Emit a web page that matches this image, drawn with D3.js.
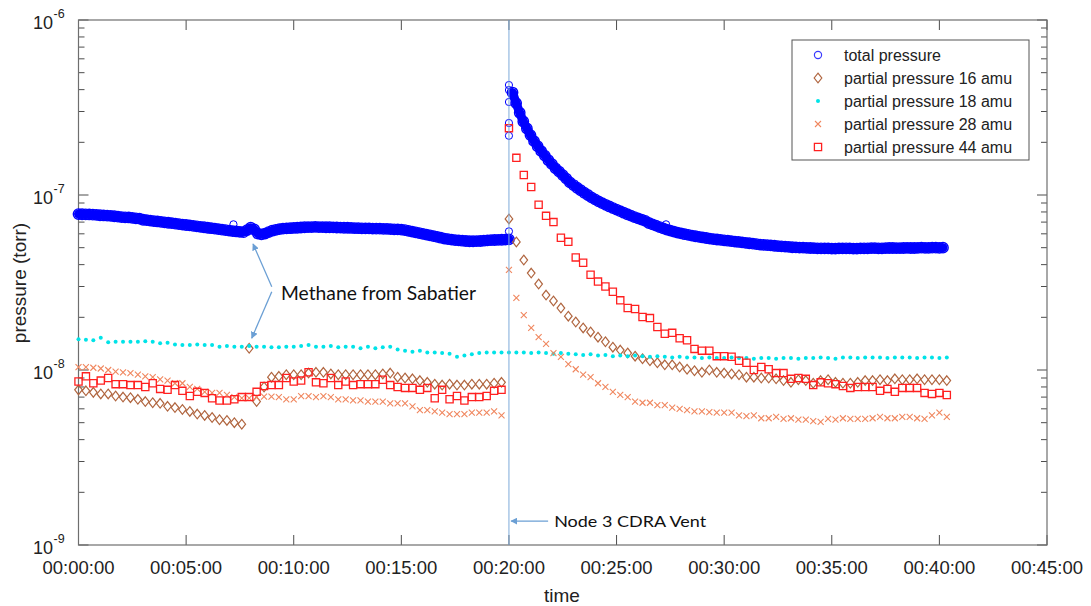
<!DOCTYPE html>
<html>
<head>
<meta charset="utf-8">
<script src="https://cdn.jsdelivr.net/npm/d3@7"></script>
<style>
  body { margin: 0; background: #fff; }
  text { font-family: "Liberation Sans", Arial, sans-serif; fill: #222; }
</style>
</head>
<body>
<div id="chart"></div>
<script>
// ---- data ----
// total pressure, 1e-8 torr, one reading every 10 s starting 00:00:00
const totalPreVent = [
  7.78, 7.76, 7.75, 7.74, 7.72, 7.70, 7.66, 7.64, 7.62, 7.60, 7.56, 7.52,
  7.48, 7.45, 7.44, 7.40, 7.36, 7.33, 7.22, 7.18, 7.14, 7.10, 7.06, 7.02,
  6.98, 6.94, 6.90, 6.86, 6.82, 6.78, 6.74, 6.70, 6.66, 6.62, 6.58, 6.54,
  6.50, 6.46, 6.42, 6.38, 6.34, 6.30, 6.26, 6.22, 6.19, 6.16, 6.13, 6.30,
  6.50, 6.35, 6.02, 5.96, 6.02, 6.14, 6.25, 6.32, 6.38, 6.42, 6.44, 6.46,
  6.48, 6.50, 6.52, 6.54, 6.55, 6.56, 6.57, 6.56, 6.55, 6.54, 6.54, 6.53,
  6.52, 6.51, 6.50, 6.50, 6.48, 6.47, 6.46, 6.45, 6.44, 6.44, 6.43, 6.42,
  6.42, 6.40, 6.40, 6.38, 6.37, 6.36, 6.34, 6.30, 6.24, 6.18, 6.12, 6.06,
  6.00, 5.94, 5.88, 5.82, 5.76, 5.70, 5.64, 5.60, 5.56, 5.52, 5.50, 5.48,
  5.46, 5.44, 5.44, 5.45, 5.46, 5.48, 5.50, 5.52, 5.53, 5.54, 5.55, 5.56,
  5.58
];
// readings logged right at the vent, 00:20:00 (1e-8 torr)
const totalVentSpike = [6.2, 21.8, 25.8, 34.0, 39.8, 42.5];
// every 10 s starting 00:20:10 (1e-8 torr)
const totalPostVent = [
  38.5, 33.5, 29.5, 26.3, 24.0, 22.0, 20.3, 19.0, 17.8, 16.8, 15.8, 15.0,
  14.2, 13.6, 13.0, 12.4, 11.8, 11.4, 11.0, 10.65, 10.3, 10.0, 9.7, 9.45,
  9.2, 8.98, 8.78, 8.6, 8.42, 8.25, 8.08, 7.92, 7.76, 7.62, 7.48, 7.35,
  7.24, 7.12, 6.92, 6.80, 6.68, 6.56, 6.45, 6.34, 6.26, 6.18, 6.10, 6.03,
  5.97, 5.92, 5.86, 5.81, 5.76, 5.72, 5.68, 5.64, 5.60, 5.57, 5.54, 5.51,
  5.48, 5.45, 5.42, 5.39, 5.36, 5.33, 5.30, 5.27, 5.24, 5.21, 5.19, 5.17,
  5.15, 5.13, 5.11, 5.09, 5.07, 5.05, 5.03, 5.02, 5.01, 5.00, 4.99, 4.98,
  4.97, 4.96, 4.96, 4.95, 4.95, 4.94, 4.94, 4.95, 4.95, 4.96, 4.95, 4.94,
  4.94, 4.95, 4.96, 4.96, 4.97, 4.97, 4.96, 4.96, 4.97, 4.98, 4.98, 4.97,
  4.97, 4.98, 4.99, 4.98, 4.98, 4.99, 5.00, 4.99, 4.99, 5.00, 5.00, 4.99,
  5.00
];
// stray total pressure readings (minutes, 1e-8 torr)
const totalStrayTimes = [7.2, 27.3];
const totalStrayValues = [6.8, 6.8];

// RGA partial pressures, 1e-9 torr, one scan every 20/58 min
const rgaStep = 20 / 58;
const pp16 = [
  7.7, 7.6, 7.45, 7.3, 7.3, 7.1, 7.0, 6.95, 6.8, 6.6, 6.5, 6.45, 6.2, 6.1, 5.95, 5.8,
  5.6, 5.5, 5.35, 5.2, 5.15, 5.0, 4.9,
  13.3, 6.6, 8.0, 9.1,
  9.2, 9.4, 9.4, 9.4, 9.6, 9.7, 9.7, 9.5, 9.4, 9.4, 9.4, 9.4, 9.4, 9.4, 9.5, 9.6,
  9.1, 9.0, 8.9, 8.7, 8.5, 8.3, 8.2, 8.3, 8.2, 8.2, 8.3, 8.3, 8.3, 8.4, 8.5,
  73,
  53.9, 42.5, 35.8, 31.0, 26.8, 24.8, 22.6, 20.3, 18.8, 17.4, 16.5, 15.4, 14.5, 13.5,
  13.0, 12.5, 12.0, 11.6, 11.3, 11.0, 10.7, 10.7, 10.4, 10.1, 9.9, 9.7, 10.0, 9.7,
  9.6, 9.5, 9.4, 9.1, 9.1, 9.0, 9.0, 8.9, 8.7, 8.5, 8.8, 8.7, 8.4, 8.7, 8.8, 8.5,
  8.4, 8.4, 8.5, 8.7, 8.7, 8.8, 8.7, 8.9, 8.8, 8.8, 8.9, 8.8, 8.8, 8.8, 8.7
];
const pp18 = [
  15.0, 14.9, 14.8, 15.3, 14.4, 14.5, 14.5, 14.5, 14.5, 14.6, 14.5, 14.2, 14.3, 14.0,
  13.9, 13.9, 14.0, 13.9, 13.9, 13.6, 13.7, 13.6, 13.6, 13.7, 13.6, 13.6, 13.5, 13.5,
  13.6, 13.6, 13.7, 13.9, 13.6, 13.6, 13.7, 13.5, 13.6, 13.6, 13.3, 13.6, 13.3, 13.5,
  13.6, 13.1, 12.9, 12.7, 12.9, 12.6, 12.6, 12.5, 12.4, 11.9, 12.1, 12.3, 12.5, 12.6,
  12.6, 12.6,
  12.6,
  12.6, 12.6, 12.5, 12.6, 12.5, 12.4, 12.5, 12.4, 12.3, 12.2, 12.3, 12.1, 12.2, 12.0,
  12.1, 12.0, 12.1, 12.0, 11.9, 12.0, 11.9, 11.8, 11.9, 11.8, 11.8, 11.7, 11.8, 11.7,
  11.7, 11.8, 11.7, 11.7, 11.6, 11.7, 11.7, 11.6, 11.7, 11.7, 11.6, 11.7, 11.7, 11.8,
  11.7, 11.6, 11.8, 11.8, 11.7, 11.8, 11.8, 11.8, 11.7, 11.8, 11.8, 11.8, 11.7, 11.8,
  11.8, 11.7, 11.8
];
const pp28 = [
  10.4, 10.4, 10.3, 10.2, 10.0, 9.8, 9.7, 9.6, 9.4, 9.2, 9.1, 8.85, 8.7, 8.4, 8.4, 8.0,
  7.8, 7.5, 7.4, 7.4, 7.2, 7.0, 6.9, 6.9, 7.0, 7.05, 7.05, 7.0, 6.8, 6.8, 7.1, 7.1,
  7.0, 7.1, 7.0, 6.8, 6.8, 6.7, 6.7, 6.6, 6.6, 6.6, 6.45, 6.45, 6.45, 6.2, 5.9, 5.9,
  5.8, 5.7, 5.6, 5.6, 5.6, 5.7, 5.7, 5.7, 5.8, 5.5,
  37.3,
  25.8, 20.6, 17.4, 15.4, 14.1, 12.5, 11.9, 10.8, 10.1, 9.4, 9.1, 8.4, 8.0, 7.5, 7.2,
  7.0, 6.6, 6.5, 6.5, 6.3, 6.3, 6.1, 6.0, 5.9, 5.8, 5.8, 5.75, 5.7, 5.7, 5.7, 5.5,
  5.45, 5.5, 5.3, 5.3, 5.4, 5.25, 5.3, 5.2, 5.2, 5.1, 5.05, 5.25, 5.2, 5.3, 5.25,
  5.25, 5.25, 5.3, 5.4, 5.3, 5.3, 5.4, 5.4, 5.3, 5.25, 5.5, 5.7, 5.4
];
const pp44 = [
  8.6, 9.2, 8.4, 8.7, 9.0, 8.3, 8.3, 8.2, 8.2, 8.0, 8.4, 7.8, 7.7, 8.2, 7.6, 7.1,
  7.5, 7.4, 6.9, 6.7, 6.7, 6.8, 7.0, 7.0, 7.5, 8.1, 8.2, 8.2, 9.0, 8.6, 8.7, 9.7,
  8.5, 8.4, 9.0, 8.2, 8.6, 8.2, 8.3, 8.3, 8.3, 8.8, 8.2, 8.0, 7.9, 7.9, 7.7, 7.9,
  6.9, 7.7, 6.8, 7.1, 6.7, 7.0, 7.0, 7.1, 7.6, 7.7,
  241,
  163, 130, 111, 88, 76, 70, 57, 54, 44, 41, 35, 32, 30, 28, 25, 22.6, 22.3, 20.1,
  19.8, 17.6, 16.1, 16.3, 15.2, 14.8, 13.2, 12.9, 12.9, 12.0, 12.0, 11.9, 11.3, 11.0,
  10.0, 10.4, 10.1, 9.6, 9.6, 8.9, 9.0, 8.9, 8.2, 8.5, 8.4, 8.3, 8.1, 7.9, 8.0, 8.0,
  8.0, 7.6, 7.8, 7.5, 7.9, 7.9, 7.9, 7.4, 7.3, 7.4, 7.2
];

const xTicks = [0, 5, 10, 15, 20, 25, 30, 35, 40, 45];   // minutes
const yDecades = [1e-9, 1e-8, 1e-7, 1e-6];
const legendLabels = ["total pressure", "partial pressure 16 amu", "partial pressure 18 amu",
                      "partial pressure 28 amu", "partial pressure 44 amu"];
const ventTime = 20;

// ---- setup ----
const width = 1091, height = 606;
const svg = d3.select("#chart").append("svg")
    .attr("width", width)
    .attr("height", height);

const x = d3.scaleLinear().domain([0, 45]).range([78.5, 1047]);
const y = d3.scaleLog().domain([1e-9, 1e-6]).range([545, 20]);
const fmtTime = m => "00:" + String(m).padStart(2, "0") + ":00";

const colTotal = "#0000ff", col16 = "#b0653f", col18 = "#00e3e8", col28 = "#f0875f", col44 = "#ff2020";

// build point lists
const preVent = totalPreVent.map((v, i) => ({ t: i / 6, v: v * 1e-8 }));
const postVent = totalPostVent.map((v, i) => ({ t: ventTime + (i + 1) / 6, v: v * 1e-8 }));
const spike = totalVentSpike.map(v => ({ t: ventTime, v: v * 1e-8 }));
const stray = totalStrayTimes.map((t, i) => ({ t: t, v: totalStrayValues[i] * 1e-8 }));
const rga = arr => arr.map((v, k) => ({ t: k * rgaStep, v: v * 1e-9 }));

// ---- axes frame + ticks ----
const axes = svg.append("g");
const tickCol = "#4d4d4d";

// x ticks (inside, bottom and top)
axes.selectAll(".xt").data(xTicks).join("line")
    .attr("x1", d => x(d)).attr("x2", d => x(d))
    .attr("y1", 545).attr("y2", 535)
    .attr("stroke", tickCol);
axes.selectAll(".xtt").data(xTicks).join("line")
    .attr("x1", d => x(d)).attr("x2", d => x(d))
    .attr("y1", 20).attr("y2", 30)
    .attr("stroke", tickCol);
axes.selectAll(".xl").data(xTicks).join("text")
    .attr("x", d => x(d)).attr("y", 574)
    .attr("text-anchor", "middle")
    .style("font-size", "18.5px")
    .text(fmtTime);

// y ticks, majors and minors on both sides
const minors = [];
yDecades.slice(0, 3).forEach(d => { for (let m = 2; m <= 9; m++) minors.push(d * m); });
[[78.5, 1], [1047, -1]].forEach(([x0, dir]) => {
    axes.append("g").selectAll("line").data(yDecades).join("line")
        .attr("x1", x0).attr("x2", x0 + dir * 10)
        .attr("y1", d => y(d)).attr("y2", d => y(d))
        .attr("stroke", tickCol);
    axes.append("g").selectAll("line").data(minors).join("line")
        .attr("x1", x0).attr("x2", x0 + dir * 6)
        .attr("y1", d => y(d)).attr("y2", d => y(d))
        .attr("stroke", tickCol);
});
yDecades.forEach(d => {
    const e = Math.round(Math.log10(d));
    axes.append("text").attr("x", 53).attr("y", y(d) + 9)
        .attr("text-anchor", "end").style("font-size", "18px").text("10");
    axes.append("text").attr("x", 53.5).attr("y", y(d) - 2)
        .attr("text-anchor", "start").style("font-size", "12.5px").text(e);
});

axes.append("rect")
    .attr("x", 78.5).attr("y", 20)
    .attr("width", 1047 - 78.5).attr("height", 525)
    .attr("fill", "none").attr("stroke", "#6e6e6e").attr("stroke-width", 1.2);

svg.append("text").attr("x", 562).attr("y", 602)
    .attr("text-anchor", "middle").style("font-size", "19px").text("time");
svg.append("text").attr("transform", "translate(26,283) rotate(-90)")
    .attr("text-anchor", "middle").style("font-size", "19px").text("pressure (torr)");

// ---- total pressure (dense circles) ----
const plot = svg.append("g");
const line = d3.line().x(d => x(d.t)).y(d => y(d.v));
[preVent, postVent].forEach(seg => {
    plot.append("path").datum(seg)
        .attr("d", line)
        .attr("fill", "none").attr("stroke", colTotal)
        .attr("stroke-width", 9).attr("stroke-linecap", "round").attr("stroke-linejoin", "round");
    plot.append("g").selectAll("circle").data(seg).join("circle")
        .attr("cx", d => x(d.t)).attr("cy", d => y(d.v)).attr("r", 5.2)
        .attr("fill", "none").attr("stroke", colTotal).attr("stroke-width", 1.4);
});
plot.append("g").selectAll("circle").data(spike.concat(stray)).join("circle")
    .attr("cx", d => x(d.t)).attr("cy", d => y(d.v)).attr("r", 3.6)
    .attr("fill", "none").attr("stroke", colTotal).attr("stroke-width", 1);

// ---- marker shapes ----
const diamond = "M0,-4.8L3.8,0L0,4.8L-3.8,0Z";
const square = "M-3.6,-3.6H3.6V3.6H-3.6Z";
const cross = "M-3,-3L3,3M-3,3L3,-3";

function drawMarkers(data, path, color, sw) {
    plot.append("g").selectAll("path").data(data).join("path")
        .attr("transform", d => `translate(${x(d.t)},${y(d.v)})`)
        .attr("d", path)
        .attr("fill", "none").attr("stroke", color).attr("stroke-width", sw);
}
drawMarkers(rga(pp16), diamond, col16, 1.2);
plot.append("g").selectAll("circle").data(rga(pp18)).join("circle")
    .attr("cx", d => x(d.t)).attr("cy", d => y(d.v)).attr("r", 2)
    .attr("fill", col18);
drawMarkers(rga(pp28), cross, col28, 1.1);
drawMarkers(rga(pp44), square, col44, 1.3);

// ---- annotations ----
const annCol = "#6b9fd4";
svg.append("defs").append("marker")
    .attr("id", "arr").attr("viewBox", "0 0 10 10")
    .attr("refX", 9).attr("refY", 5)
    .attr("markerWidth", 7).attr("markerHeight", 7)
    .attr("markerUnits", "userSpaceOnUse")
    .attr("orient", "auto")
    .append("path").attr("d", "M0,0L10,5L0,10Z").attr("fill", annCol);

svg.append("line")
    .attr("x1", x(ventTime)).attr("x2", x(ventTime))
    .attr("y1", 20).attr("y2", 545)
    .attr("stroke", "#7eaad9").attr("stroke-width", 1);

const arrows = [
    [[8.98, 2.99e-8], [8.11, 5.25e-8]],
    [[8.98, 2.80e-8], [8.05, 1.52e-8]],
    [[21.82, 1.37e-9], [20.1, 1.37e-9]]
];
arrows.forEach(([a, b]) => {
    svg.append("line")
        .attr("x1", x(a[0])).attr("y1", y(a[1]))
        .attr("x2", x(b[0])).attr("y2", y(b[1]))
        .attr("stroke", annCol).attr("stroke-width", 1.3)
        .attr("marker-end", "url(#arr)");
});
svg.append("text").attr("x", x(9.41)).attr("y", y(2.51e-8))
    .style("font-family", "Lato, 'Open Sans', sans-serif").style("font-size", "19px")
    .attr("textLength", 195).attr("lengthAdjust", "spacingAndGlyphs")
    .style("fill", "#111").text("Methane from Sabatier");
svg.append("text").attr("x", x(22.1)).attr("y", y(1.27e-9))
    .style("font-family", "Lato, 'Open Sans', sans-serif").style("font-size", "16px")
    .attr("textLength", 152).attr("lengthAdjust", "spacingAndGlyphs")
    .style("fill", "#111").text("Node 3 CDRA Vent");

// ---- legend ----
const lg = svg.append("g").attr("transform", "translate(792,40)");
lg.append("rect").attr("width", 237).attr("height", 120)
    .attr("fill", "#fff").attr("stroke", "#555").attr("stroke-width", 1);
const rows = [15, 38, 61, 84, 107];
lg.append("circle").attr("cx", 26).attr("cy", rows[0]).attr("r", 3.6)
    .attr("fill", "none").attr("stroke", "#3a3aff").attr("stroke-width", 1.2);
lg.append("path").attr("transform", `translate(26,${rows[1]})`).attr("d", diamond)
    .attr("fill", "none").attr("stroke", col16).attr("stroke-width", 1.2);
lg.append("circle").attr("cx", 26).attr("cy", rows[2]).attr("r", 2).attr("fill", col18);
lg.append("path").attr("transform", `translate(26,${rows[3]})`).attr("d", cross)
    .attr("fill", "none").attr("stroke", col28).attr("stroke-width", 1.1);
lg.append("path").attr("transform", `translate(26,${rows[4]})`).attr("d", square)
    .attr("fill", "none").attr("stroke", col44).attr("stroke-width", 1.3);
lg.selectAll("text.lbl").data(legendLabels).join("text")
    .attr("x", 52).attr("y", (d, i) => rows[i] + 5.5)
    .style("font-size", "16px")
    .text(d => d);
</script>
</body>
</html>
